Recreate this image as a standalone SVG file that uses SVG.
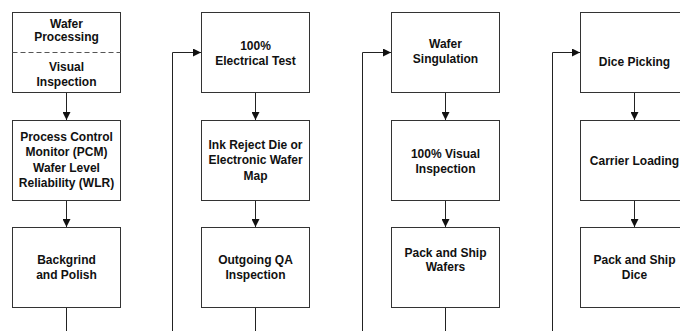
<svg xmlns="http://www.w3.org/2000/svg" width="680" height="331" viewBox="0 0 680 331">
<style>
.box{fill:#fff;stroke:#333;stroke-width:1}
.lbl{font-family:"Liberation Sans",Arial,sans-serif;font-weight:bold;font-size:12px;fill:#111;text-anchor:middle}
.con{fill:none;stroke:#222;stroke-width:1}
.arr{marker-end:url(#ah)}
.dash{stroke:#555;stroke-width:1;stroke-dasharray:5 3}
</style>
<defs>
<marker id="ah" markerUnits="userSpaceOnUse" markerWidth="8" markerHeight="8" refX="8" refY="4" orient="auto">
<path d="M0,0 L8,4 L0,8 z" fill="#111"/>
</marker>
</defs>
<rect width="680" height="331" fill="#fff"/>
<g id="connectors">
<path class="con arr" d="M66.5,92.5 V120"/>
<path class="con arr" d="M66.5,200.5 V227"/>
<path class="con" d="M66.5,307.5 V331"/>
<path class="con arr" d="M172.5,331 V52.5 H201"/>
<path class="con arr" d="M255.5,92.5 V120"/>
<path class="con arr" d="M255.5,200.5 V227"/>
<path class="con" d="M255.5,307.5 V331"/>
<path class="con arr" d="M362.5,331 V52.5 H391"/>
<path class="con arr" d="M445.5,92.5 V120"/>
<path class="con arr" d="M445.5,200.5 V227"/>
<path class="con" d="M445.5,307.5 V331"/>
<path class="con arr" d="M552.5,331 V52.5 H580"/>
<path class="con arr" d="M634.5,92.5 V120"/>
<path class="con arr" d="M634.5,200.5 V227"/>
</g>
<g id="wafer-processing">
<rect class="box" x="12.5" y="12.5" width="108" height="80"/>
<line class="dash" x1="12.5" y1="52.5" x2="120.5" y2="52.5"/>
<text class="lbl" x="66.5" y="27.5">Wafer</text>
<text class="lbl" x="66.5" y="41">Processing</text>
<text class="lbl" x="66.5" y="71">Visual</text>
<text class="lbl" x="66.5" y="85.5">Inspection</text>
</g>
<g id="pcm-wlr">
<rect class="box" x="12.5" y="120.5" width="108" height="80"/>
<text class="lbl" x="66.5" y="140.5">Process Control</text>
<text class="lbl" x="66.5" y="156">Monitor (PCM)</text>
<text class="lbl" x="66.5" y="171.5">Wafer Level</text>
<text class="lbl" x="66.5" y="186.5">Reliability (WLR)</text>
</g>
<g id="backgrind">
<rect class="box" x="12.5" y="227.5" width="108" height="80"/>
<text class="lbl" x="66.5" y="264">Backgrind</text>
<text class="lbl" x="66.5" y="278.5">and Polish</text>
</g>
<g id="electrical-test">
<rect class="box" x="201.5" y="12.5" width="108" height="80"/>
<text class="lbl" x="255.5" y="49.5">100%</text>
<text class="lbl" x="255.5" y="65">Electrical Test</text>
</g>
<g id="ink-reject">
<rect class="box" x="201.5" y="120.5" width="108" height="80"/>
<text class="lbl" x="255.5" y="149">Ink Reject Die or</text>
<text class="lbl" x="255.5" y="164">Electronic Wafer</text>
<text class="lbl" x="255.5" y="180">Map</text>
</g>
<g id="outgoing-qa">
<rect class="box" x="201.5" y="227.5" width="108" height="80"/>
<text class="lbl" x="255.5" y="264">Outgoing QA</text>
<text class="lbl" x="255.5" y="278.5">Inspection</text>
</g>
<g id="wafer-singulation">
<rect class="box" x="391.5" y="12.5" width="108" height="80"/>
<text class="lbl" x="445.5" y="47.5">Wafer</text>
<text class="lbl" x="445.5" y="63">Singulation</text>
</g>
<g id="visual-inspection">
<rect class="box" x="391.5" y="120.5" width="108" height="80"/>
<text class="lbl" x="445.5" y="157.5">100% Visual</text>
<text class="lbl" x="445.5" y="172.5">Inspection</text>
</g>
<g id="pack-ship-wafers">
<rect class="box" x="391.5" y="227.5" width="108" height="80"/>
<text class="lbl" x="445.5" y="256.5">Pack and Ship</text>
<text class="lbl" x="445.5" y="271">Wafers</text>
</g>
<g id="dice-picking">
<rect class="box" x="580.5" y="12.5" width="108" height="80"/>
<text class="lbl" x="634.5" y="66">Dice Picking</text>
</g>
<g id="carrier-loading">
<rect class="box" x="580.5" y="120.5" width="108" height="80"/>
<text class="lbl" x="634.5" y="164.5">Carrier Loading</text>
</g>
<g id="pack-ship-dice">
<rect class="box" x="580.5" y="227.5" width="108" height="80"/>
<text class="lbl" x="634.5" y="264">Pack and Ship</text>
<text class="lbl" x="634.5" y="278.5">Dice</text>
</g>
</svg>
